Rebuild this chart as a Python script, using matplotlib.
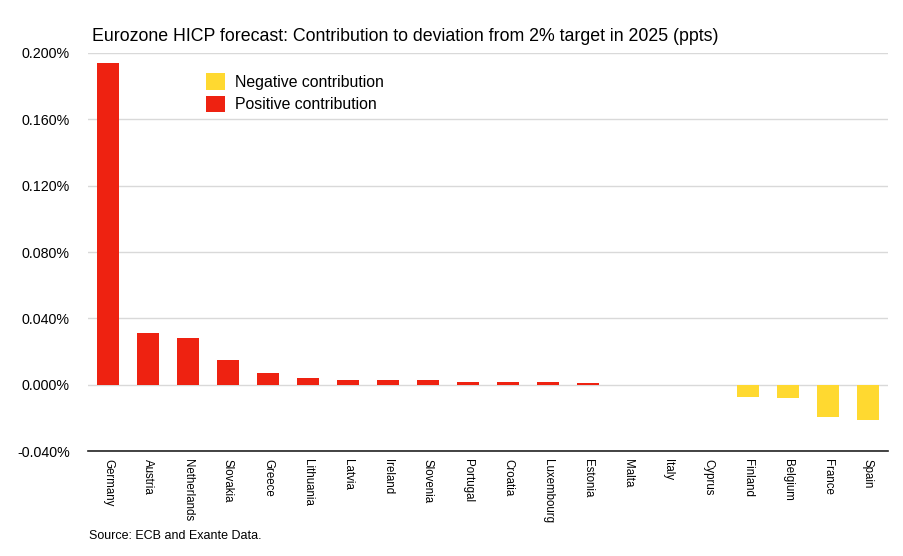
import matplotlib
matplotlib.use("Agg")
import matplotlib.pyplot as plt
from matplotlib.patches import Patch
from matplotlib.ticker import FuncFormatter

countries = ["Germany", "Austria", "Netherlands", "Slovakia", "Greece", "Lithuania",
             "Latvia", "Ireland", "Slovenia", "Portugal", "Croatia", "Luxembourg",
             "Estonia", "Malta", "Italy", "Cyprus", "Finland", "Belgium", "France", "Spain"]
# contribution in percentage points (shown as %)
values = [0.194, 0.031, 0.028, 0.015, 0.0072, 0.0042,
          0.003, 0.003, 0.003, 0.0018, 0.0018, 0.0018,
          0.0012, 0.0, 0.0, 0.0, -0.0072, -0.008, -0.0197, -0.0215]
yticks = [-0.04, 0.0, 0.04, 0.08, 0.12, 0.16, 0.20]

RED = "#ee2211"
YELLOW = "#ffd930"

plt.rcParams["font.family"] = ["Liberation Sans", "DejaVu Sans"]

fig = plt.figure(figsize=(9.04, 5.56), dpi=100)
ax = fig.add_axes([0.0973, 0.1888, 0.8850, 0.7159])

colors = [RED if v > 0 else YELLOW for v in values]
ax.bar(range(len(countries)), values, width=0.55, color=colors, zorder=3)

ax.set_xlim(-0.5, len(countries) - 0.5)
ax.set_ylim(-0.04, 0.20)
ax.set_yticks(yticks)
ax.yaxis.set_major_formatter(FuncFormatter(lambda v, p: f"{v:.3f}%"))
ax.set_xticks(range(len(countries)))
ax.set_xticklabels(countries, rotation=270, fontsize=8.3, va="top", ha="center")

ax.grid(axis="y", color="#d9d9d9", linewidth=1.0, zorder=0)
ax.tick_params(axis="y", length=0, pad=13, labelsize=10.3)
ax.tick_params(axis="x", length=0, pad=6)
for s in ["left", "right", "top"]:
    ax.spines[s].set_visible(False)
ax.spines["bottom"].set_color("#222222")
ax.spines["bottom"].set_linewidth(1.2)

handles = [Patch(facecolor=YELLOW, label="Negative contribution"),
           Patch(facecolor=RED, label="Positive contribution")]
ax.legend(handles=handles, loc="upper left", bbox_to_anchor=(0.148, 0.95),
          frameon=False, fontsize=11.4, borderaxespad=0, borderpad=0,
          handlelength=1.15, handleheight=1.25, handletextpad=0.65, labelspacing=0.38)

fig.text(0.102, 0.935, "Eurozone HICP forecast: Contribution to deviation from 2% target in 2025 (ppts)",
         fontsize=12.8, ha="left", va="center")
fig.text(0.099, 0.036, "Source: ECB and Exante Data.", fontsize=9, ha="left", va="center")

fig.savefig("out.png", dpi=100)
